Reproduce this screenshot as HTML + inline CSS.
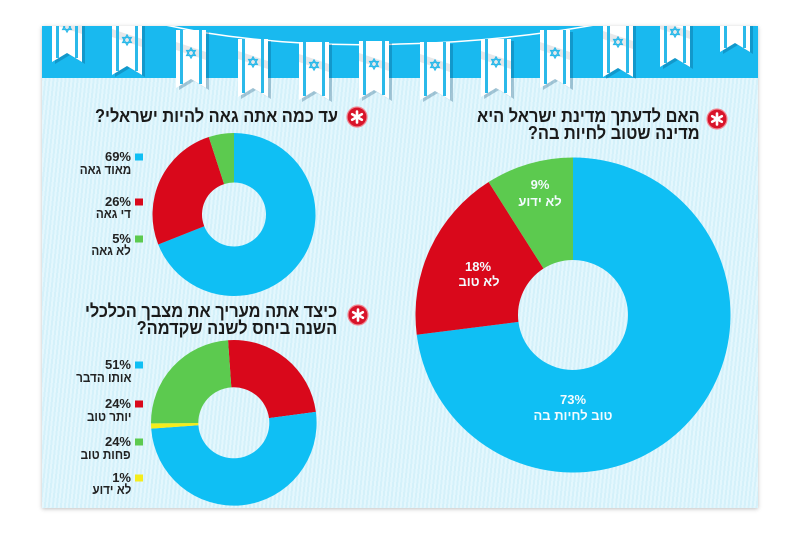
<!DOCTYPE html>
<html><head><meta charset="utf-8">
<style>
html,body{margin:0;padding:0;background:#fff;}
body{width:800px;height:534px;position:relative;overflow:hidden;font-family:"Liberation Sans","DejaVu Sans",sans-serif;}
.panel{position:absolute;left:42px;top:26px;width:716px;height:482px;
background:repeating-linear-gradient(96deg,#d4f1fa 0px,#d4f1fa 2px,#e4f7fd 2px,#e4f7fd 4px);
box-shadow:0 1px 4px rgba(0,0,0,0.25);}
.band{position:absolute;left:0;top:0;width:716px;height:52px;background:#19b9ef;}
svg{position:absolute;left:0;top:0;}
.t{position:absolute;direction:rtl;text-align:right;font-weight:bold;color:#1a1a1a;white-space:nowrap;transform:scaleX(0.91);transform-origin:100% 50%;}
.ttl{font-size:18px;line-height:17px;}
.pc{position:absolute;direction:ltr;text-align:right;font-weight:bold;color:#222;font-size:13px;line-height:15px;white-space:nowrap;}
.lb{position:absolute;direction:rtl;text-align:right;font-weight:bold;color:#222;font-size:13px;line-height:15px;white-space:nowrap;transform:scaleX(0.9);transform-origin:100% 50%;}
.w{position:absolute;width:140px;text-align:center;color:#f2fbfe;font-weight:bold;font-size:13px;line-height:15px;white-space:nowrap;}
</style></head>
<body>
<div class="panel"><div class="band"></div></div>

<svg width="800" height="534" viewBox="0 0 800 534">
<defs>
<clipPath id="pc"><rect x="42" y="26" width="716" height="482"/></clipPath>
<g id="flag">
  <polygon points="3,2 33,2 33,60 18,51 3,60" fill="rgba(0,70,110,0.28)"/>
  <polygon points="0,0 30,0 30,58 15,49 0,58" fill="#ffffff"/>
  <polygon points="0,12 30,22 30,30 0,20" fill="rgba(120,130,140,0.18)"/>
  <rect x="4" y="0" width="3" height="54" fill="#2bb9e9"/>
  <rect x="23" y="0" width="3" height="54" fill="#2bb9e9"/>
  <polygon points="15,18 19.3,25.5 10.7,25.5" fill="none" stroke="#2bb9e9" stroke-width="1.3"/>
  <polygon points="15,28 19.3,20.5 10.7,20.5" fill="none" stroke="#2bb9e9" stroke-width="1.3"/>
</g>
</defs>
<g clip-path="url(#pc)">
  <path d="M40,-2 Q120,16 200,32 Q300,48 400,44 Q500,42 600,24 Q700,6 760,-12" fill="none" stroke="#ffffff" stroke-width="1.5"/>
  <use href="#flag" x="52" y="4"/>
  <use href="#flag" x="112" y="17"/>
  <use href="#flag" x="176" y="30"/>
  <use href="#flag" x="238" y="39"/>
  <use href="#flag" x="299" y="42"/>
  <use href="#flag" x="359" y="41"/>
  <use href="#flag" x="420" y="42"/>
  <use href="#flag" x="481" y="39"/>
  <use href="#flag" x="540" y="30"/>
  <use href="#flag" x="603" y="19"/>
  <use href="#flag" x="660" y="9"/>
  <use href="#flag" x="720" y="-6"/>
</g>

<!-- Large donut -->
<path d="M573,157.5 A157.5,157.5 0 1 1 416.74,334.74 L518.43,321.89 A55,55 0 1 0 573,260 Z" fill="#0fbff4"/>
<path d="M416.74,334.74 A157.5,157.5 0 0 1 488.61,182.02 L543.53,268.56 A55,55 0 0 0 518.43,321.89 Z" fill="#d9081b"/>
<path d="M488.61,182.02 A157.5,157.5 0 0 1 573,157.5 L573,260 A55,55 0 0 0 543.53,268.56 Z" fill="#5cca4f"/>

<!-- Top-left donut -->
<path d="M234,133 A81.5,81.5 0 1 1 158.22,244.5 L204.25,226.28 A32,32 0 1 0 234,182.5 Z" fill="#0fbff4"/>
<path d="M158.22,244.5 A81.5,81.5 0 0 1 208.81,136.99 L224.11,184.07 A32,32 0 0 0 204.25,226.28 Z" fill="#d9081b"/>
<path d="M208.81,136.99 A81.5,81.5 0 0 1 234,133 L234,182.5 A32,32 0 0 0 224.11,184.07 Z" fill="#5cca4f"/>

<!-- Bottom-left donut -->
<path d="M228.02,340.2 A82.8,82.8 0 0 1 315.87,411.85 L268.99,418.1 A35.5,35.5 0 0 0 231.32,387.39 Z" fill="#d9081b"/>
<path d="M315.87,411.85 A82.8,82.8 0 1 1 151.2,428.58 L198.39,425.28 A35.5,35.5 0 1 0 268.99,418.1 Z" fill="#0fbff4"/>
<path d="M151.2,428.58 A82.8,82.8 0 0 1 151.0,423.38 L198.3,423.05 A35.5,35.5 0 0 0 198.39,425.28 Z" fill="#f4ec1c"/>
<path d="M151.0,423.38 A82.8,82.8 0 0 1 228.02,340.2 L231.32,387.39 A35.5,35.5 0 0 0 198.3,423.05 Z" fill="#5cca4f"/>

<!-- icons -->
<g>
  <circle cx="717" cy="119" r="10" fill="#d8142a" stroke="#f08a95" stroke-width="1.2"/>
  <g stroke="#fff" stroke-width="2.6" stroke-linecap="round">
    <line x1="717" y1="113.5" x2="717" y2="124.5"/>
    <line x1="712.2" y1="116.2" x2="721.8" y2="121.8"/>
    <line x1="712.2" y1="121.8" x2="721.8" y2="116.2"/>
  </g>
  <circle cx="357" cy="117" r="10" fill="#d8142a" stroke="#f08a95" stroke-width="1.2"/>
  <g stroke="#fff" stroke-width="2.6" stroke-linecap="round">
    <line x1="357" y1="111.5" x2="357" y2="122.5"/>
    <line x1="352.2" y1="114.2" x2="361.8" y2="119.8"/>
    <line x1="352.2" y1="119.8" x2="361.8" y2="114.2"/>
  </g>
  <circle cx="358" cy="315" r="10" fill="#d8142a" stroke="#f08a95" stroke-width="1.2"/>
  <g stroke="#fff" stroke-width="2.6" stroke-linecap="round">
    <line x1="358" y1="309.5" x2="358" y2="320.5"/>
    <line x1="353.2" y1="312.2" x2="362.8" y2="317.8"/>
    <line x1="353.2" y1="317.8" x2="362.8" y2="312.2"/>
  </g>
</g>

<!-- legend squares -->
<rect x="135" y="153.5" width="8" height="7" fill="#0fbff4"/>
<rect x="135" y="198.5" width="8" height="7" fill="#d9081b"/>
<rect x="135" y="235.5" width="8" height="7" fill="#5cca4f"/>
<rect x="135" y="361.5" width="8" height="7" fill="#0fbff4"/>
<rect x="135" y="400.5" width="8" height="7" fill="#d9081b"/>
<rect x="135" y="438.5" width="8" height="7" fill="#5cca4f"/>
<rect x="135" y="474.5" width="8" height="7" fill="#f4ec1c"/>
</svg>

<!-- Titles -->
<div class="t ttl" style="right:100px;top:108px;">האם לדעתך מדינת ישראל היא<br>מדינה שטוב לחיות בה?</div>
<div class="t ttl" style="right:462px;top:108px;">עד כמה אתה גאה להיות ישראלי?</div>
<div class="t ttl" style="right:463px;top:303px;">כיצד אתה מעריך את מצבך הכלכלי<br>השנה ביחס לשנה שקדמה?</div>

<!-- Top-left legend -->
<div class="pc" style="right:669px;top:149px;">69%</div>
<div class="lb" style="right:669px;top:162px;">מאוד גאה</div>
<div class="pc" style="right:669px;top:194px;">26%</div>
<div class="lb" style="right:669px;top:206px;">די גאה</div>
<div class="pc" style="right:669px;top:231px;">5%</div>
<div class="lb" style="right:669px;top:243px;">לא גאה</div>

<!-- Bottom-left legend -->
<div class="pc" style="right:669px;top:357px;">51%</div>
<div class="lb" style="right:669px;top:370px;">אותו הדבר</div>
<div class="pc" style="right:669px;top:396px;">24%</div>
<div class="lb" style="right:669px;top:409px;">יותר טוב</div>
<div class="pc" style="right:669px;top:434px;">24%</div>
<div class="lb" style="right:669px;top:447px;">פחות טוב</div>
<div class="pc" style="right:669px;top:470px;">1%</div>
<div class="lb" style="right:669px;top:482px;">לא ידוע</div>

<!-- Big donut labels -->
<div class="w" style="left:470px;top:177px;">9%</div>
<div class="w" style="left:470px;top:194px;direction:rtl;">לא ידוע</div>
<div class="w" style="left:408px;top:259px;">18%</div>
<div class="w" style="left:409px;top:274px;direction:rtl;">לא טוב</div>
<div class="w" style="left:503px;top:392px;">73%</div>
<div class="w" style="left:503px;top:408px;direction:rtl;">טוב לחיות בה</div>
</body></html>
